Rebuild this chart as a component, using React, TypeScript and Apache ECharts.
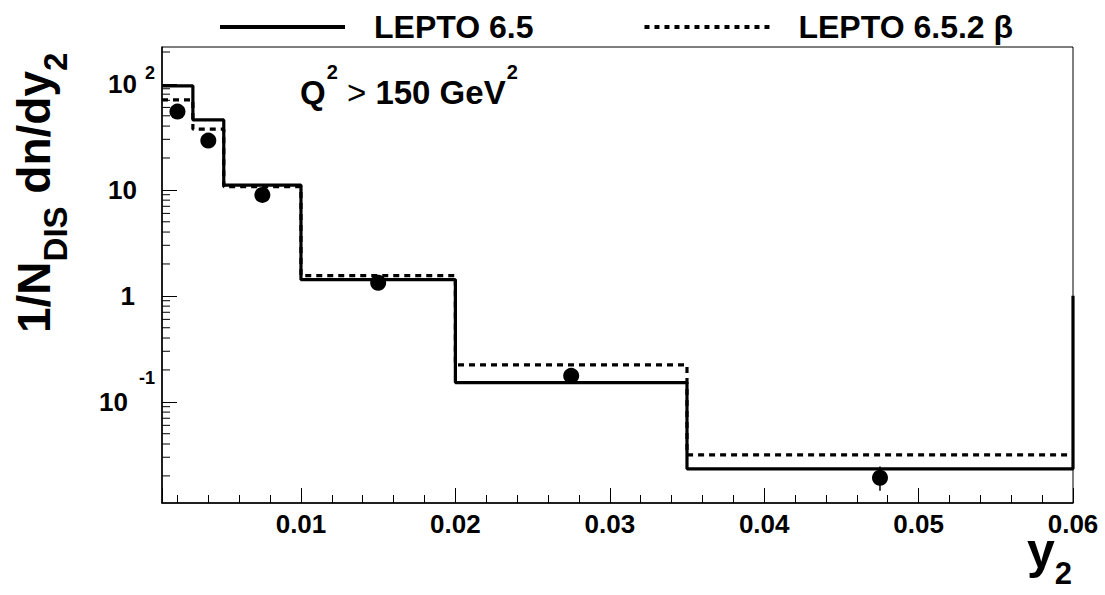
import React, { useEffect, useRef } from "react";
import * as echarts from "echarts";

const FONT = "'Liberation Sans', Arial, Helvetica, sans-serif";

// Histogram bin edges in y2
const binEdges = [0.001, 0.003, 0.005, 0.01, 0.02, 0.035, 0.06];
// LEPTO 6.5 (solid) bin contents
const lepto65 = [96, 45.7, 11.1, 1.42, 0.152, 0.0233];
// the solid histogram's right edge rises to this value at y2 = 0.06
const lepto65RightEdge = 1;
// LEPTO 6.5.2 beta (dashed) bin contents
const lepto652beta = [70.6, 37.4, 10.7, 1.55, 0.223, 0.0316];

// Data points
const dataX = [0.002, 0.004, 0.0075, 0.015, 0.0275, 0.0475];
const dataY = [54.8, 29.2, 8.97, 1.33, 0.176, 0.0192];
const dataErrLow = [51, 27, 8.4, 1.25, 0.166, 0.0145];
const dataErrHigh = [58.5, 31.5, 9.6, 1.42, 0.187, 0.0245];

// Axis ticks and labels
const xTickValues = [0.01, 0.02, 0.03, 0.04, 0.05, 0.06];
const xTickLabels = ["0.01", "0.02", "0.03", "0.04", "0.05", "0.06"];
const yTickValues = [0.1, 1, 10, 100];
const yTickLabels = ["{n|10}{em|-1}", "{n|1}{pad1|}", "{n|10}{pad|}", "{n|10}{ep|2}"];
const yMinorTickValues = [
  0.02, 0.03, 0.04, 0.05, 0.06, 0.07, 0.08, 0.09,
  0.2, 0.3, 0.4, 0.5, 0.6, 0.7, 0.8, 0.9,
  2, 3, 4, 5, 6, 7, 8, 9,
  20, 30, 40, 50, 60, 70, 80, 90,
  200,
];

const X_MIN = 0.001;
const X_MAX = 0.06;
const Y_MIN = 0.0111;
const Y_MAX = 223;

const SERIES_SOLID = "LEPTO 6.5";
const SERIES_DASHED = "LEPTO 6.5.2 β";

function histPoints(edges: number[], vals: number[], tail?: number) {
  const pts: number[][] = [];
  for (let i = 0; i < vals.length; i++) {
    pts.push([edges[i], vals[i]]);
    pts.push([edges[i + 1], vals[i]]);
  }
  if (tail !== undefined) pts.push([edges[edges.length - 1], tail]);
  return pts;
}

export default function App() {
  const ref = useRef<HTMLDivElement>(null);

  useEffect(() => {
    const chart = echarts.init(ref.current!, null, { renderer: "svg" });
    const option: any = {
      animation: false,
      backgroundColor: "#fff",
      grid: {
        left: 162,
        right: 32,
        top: 47,
        bottom: 92,
        show: true,
        borderColor: "#000",
        borderWidth: 1,
        backgroundColor: "transparent",
      },
      legend: {
        top: 6,
        left: 213,
        itemWidth: 125,
        itemHeight: 20,
        itemGap: 109,
        selectedMode: false,
        data: [
          { name: SERIES_SOLID, lineStyle: { width: 4, type: "solid", color: "#000" } },
          { name: SERIES_DASHED, lineStyle: { width: 4, type: [5, 5], color: "#000" } },
        ],
        itemStyle: { opacity: 0 },
        textStyle: {
          fontSize: 32,
          fontWeight: "bold",
          fontFamily: FONT,
          color: "#000",
          padding: [0, 0, 0, 24],
        },
      },
      xAxis: {
        type: "value",
        min: X_MIN,
        max: X_MAX,
        splitLine: { show: false },
        axisLine: { show: true, onZero: false, lineStyle: { color: "#000", width: 1.5 } },
        axisTick: { show: true, inside: true, length: 15, lineStyle: { color: "#000", width: 1 } },
        minorTick: { show: true, splitNumber: 5, length: 8, lineStyle: { color: "#000", width: 1 } },
        axisLabel: {
          showMinLabel: false,
          showMaxLabel: true,
          margin: 8,
          fontSize: 26,
          fontWeight: "bold",
          fontFamily: FONT,
          color: "#000",
          formatter: (v: number) => {
            const i = xTickValues.findIndex((t) => Math.abs(t - v) < 1e-9);
            return i >= 0 ? xTickLabels[i] : "";
          },
        },
      },
      yAxis: {
        type: "log",
        logBase: 10,
        min: Y_MIN,
        max: Y_MAX,
        splitLine: { show: false },
        axisLine: { show: true, onZero: false, lineStyle: { color: "#000", width: 1.5 } },
        axisTick: { show: true, inside: true, length: 15, lineStyle: { color: "#000", width: 1 } },
        axisLabel: {
          showMinLabel: false,
          showMaxLabel: false,
          margin: 7,
          formatter: (v: number) => {
            const i = yTickValues.findIndex((t) => Math.abs(t - v) < 1e-9 * t);
            return i >= 0 ? yTickLabels[i] : "";
          },
          rich: {
            n: { fontSize: 26, fontWeight: "bold", fontFamily: FONT, color: "#000" },
            ep: {
              fontSize: 18, fontWeight: "bold", fontFamily: FONT, color: "#000",
              padding: [0, 0, 22, 8],
            },
            em: {
              fontSize: 18, fontWeight: "bold", fontFamily: FONT, color: "#000",
              padding: [0, 0, 48, 11],
            },
            pad: { width: 18 },
            pad1: { width: 20 },
          },
        },
      },
      graphic: [
        {
          type: "text",
          x: 300,
          y: 92,
          style: {
            text: "{m|Q}{s|2}{g| > }{m|150 GeV}{s|2}",
            align: "left",
            verticalAlign: "middle",
            rich: {
              m: { fontSize: 33, fontWeight: "bold", fontFamily: FONT, fill: "#000" },
              s: { fontSize: 20, fontWeight: "bold", fontFamily: FONT, fill: "#000", padding: [0, 0, 40, 1] },
              g: { fontSize: 33, fontWeight: "normal", fontFamily: FONT, fill: "#000" },
            },
          },
        },
        {
          type: "text",
          x: 33.5,
          y: 333,
          rotation: Math.PI / 2,
          style: {
            text: "{m|1/N}{s|DIS}{m| dn/dy}{s|2}",
            align: "left",
            verticalAlign: "middle",
            rich: {
              m: { fontSize: 46, fontWeight: "bold", fontFamily: FONT, fill: "#000" },
              s: { fontSize: 33, fontWeight: "bold", fontFamily: FONT, fill: "#000", padding: [43, 0, 0, 0] },
            },
          },
        },
        {
          type: "text",
          x: 1072,
          y: 551,
          style: {
            text: "{m|y}{s|2}",
            align: "right",
            verticalAlign: "middle",
            rich: {
              m: { fontSize: 50, fontWeight: "bold", fontFamily: FONT, fill: "#000", lineHeight: 44 },
              s: { fontSize: 31, fontWeight: "bold", fontFamily: FONT, fill: "#000", lineHeight: 24, padding: [44, 0, 0, 0] },
            },
          },
        },
      ],
      series: [
        {
          name: SERIES_DASHED,
          type: "line",
          data: histPoints(binEdges, lepto652beta),
          symbol: "none",
          showSymbol: false,
          itemStyle: { color: "#000" },
          lineStyle: { color: "#000", width: 3.2, type: [6, 5] },
          z: 2,
        },
        {
          name: SERIES_SOLID,
          type: "line",
          data: histPoints(binEdges, lepto65, lepto65RightEdge),
          symbol: "none",
          showSymbol: false,
          itemStyle: { color: "#000" },
          lineStyle: { color: "#000", width: 3.2, type: "solid" },
          z: 3,
        },
        {
          name: "errors",
          type: "custom",
          data: dataX.map((x, i) => [x, dataErrLow[i], dataErrHigh[i]]),
          encode: { x: 0, y: [1, 2] },
          renderItem: (params: any, api: any) => {
            const lo = api.coord([api.value(0), api.value(1)]);
            const hi = api.coord([api.value(0), api.value(2)]);
            return {
              type: "line",
              shape: { x1: lo[0], y1: lo[1], x2: hi[0], y2: hi[1] },
              style: { stroke: "#000", lineWidth: 1.5 },
            };
          },
          silent: true,
          z: 4,
        },
        {
          name: "data",
          type: "scatter",
          data: dataX.map((x, i) => [x, dataY[i]]),
          symbol: "circle",
          symbolSize: 16,
          itemStyle: { color: "#000", opacity: 1 },
          z: 5,
        },
        {
          name: "yMinorTicks",
          type: "custom",
          data: yMinorTickValues.map((v) => [X_MIN, v]),
          renderItem: (params: any, api: any) => {
            const p = api.coord([api.value(0), api.value(1)]);
            return {
              type: "line",
              shape: { x1: p[0], y1: p[1], x2: p[0] + 8, y2: p[1] },
              style: { stroke: "#000", lineWidth: 1 },
            };
          },
          silent: true,
          clip: false,
          z: 6,
        },
      ],
    };
    chart.setOption(option);
    return () => chart.dispose();
  }, []);

  return (
    <div
      ref={ref}
      style={{ position: "fixed", left: 0, top: 0, width: 1105, height: 595 }}
    />
  );
}
